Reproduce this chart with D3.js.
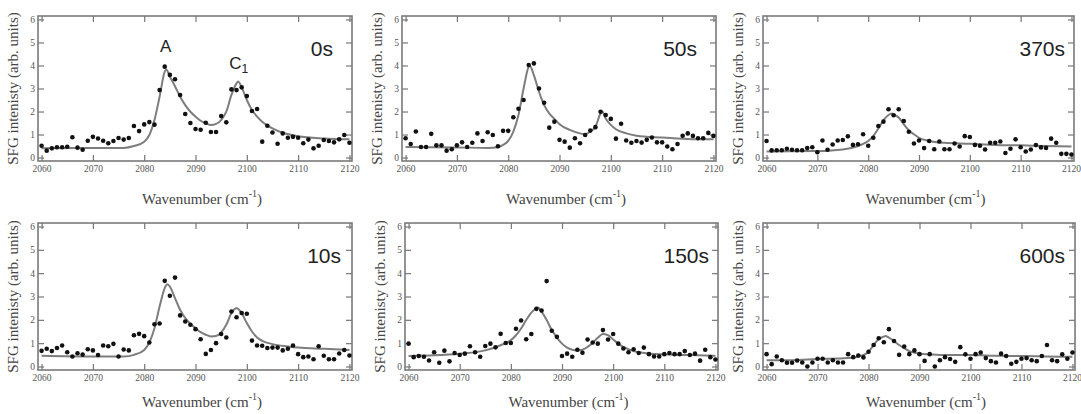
<!DOCTYPE html>
<html>
<head>
<meta charset="utf-8">
<script src="https://cdn.jsdelivr.net/npm/d3@7"></script>
<style>
  body { margin: 0; background: #fff; }
  .tick text { font-family: "Liberation Serif", serif; font-size: 9.5px; fill: #555; }
  .tick line { stroke: #777; stroke-width: 1.2; }
</style>
</head>
<body>
<div id="chartContainer"></div>
<script>
// wavenumber of every measured point (cm-1)
var wavenumbers = [2060,2061,2062,2063,2064,2065,2066,2067,2068,2069,
  2070,2071,2072,2073,2074,2075,2076,2077,2078,2079,
  2080,2081,2082,2083,2084,2085,2086,2087,2088,2089,
  2090,2091,2092,2093,2094,2095,2096,2097,2098,2099,
  2100,2101,2102,2103,2104,2105,2106,2107,2108,2109,
  2110,2111,2112,2113,2114,2115,2116,2117,2118,2119,2120];

var xTicks = [2060, 2070, 2080, 2090, 2100, 2110, 2120];
var yTicks = [0, 1, 2, 3, 4, 5, 6];

// measured SFG intensity, one value per wavenumber
var sfg0s = [0.51,0.30,0.40,0.45,0.45,0.47,0.88,0.43,0.34,0.73,
  0.90,0.83,0.73,0.62,0.72,0.85,0.78,0.85,1.37,1.15,
  1.44,1.54,1.43,2.93,3.95,3.59,3.40,2.72,1.89,1.50,
  1.24,1.21,1.51,1.11,1.11,1.80,1.53,2.96,2.93,3.05,
  2.67,2.02,2.11,0.69,1.38,1.09,0.60,1.05,0.86,0.90,
  0.86,0.62,0.78,0.40,0.51,0.76,0.72,0.66,0.79,0.98,0.64];
var sfg50s = [0.84,0.59,1.13,0.46,0.46,1.03,0.53,0.53,0.30,0.36,
  0.53,0.66,0.46,0.64,1.05,0.72,1.10,0.98,0.49,1.16,
  1.16,1.75,2.12,2.50,4.02,4.09,3.00,2.38,1.30,1.56,
  0.77,0.69,0.43,0.84,0.62,0.98,1.17,1.32,1.99,1.85,
  1.68,0.82,1.47,0.74,0.64,0.72,0.65,0.77,0.87,0.66,
  0.66,0.48,0.36,0.59,0.95,1.05,0.94,0.84,0.84,1.07,0.94];
var sfg370s = [0.72,0.31,0.32,0.32,0.38,0.34,0.32,0.32,0.41,0.45,
  0.23,0.74,0.34,0.57,0.74,0.76,0.92,0.55,0.58,1.01,
  0.51,0.86,1.37,1.56,2.10,1.84,2.10,1.59,1.12,0.61,
  0.74,0.41,0.72,0.36,0.70,0.36,0.36,0.61,0.48,0.93,
  0.89,0.55,0.51,0.35,0.64,0.64,0.70,0.20,0.38,0.79,
  0.45,0.26,0.35,0.54,0.44,0.42,0.82,0.64,0.16,0.16,0.13];
var sfg10s = [0.67,0.76,0.66,0.79,0.90,0.61,0.43,0.57,0.51,0.74,
  0.69,0.49,0.90,0.87,0.97,0.43,0.73,0.69,1.34,1.40,
  1.30,1.03,1.81,1.84,3.67,3.03,3.81,2.19,1.93,1.79,
  1.60,1.17,0.54,0.71,1.00,1.39,1.24,2.36,2.11,2.29,
  2.26,1.11,0.90,0.89,0.79,0.81,0.81,0.69,0.76,0.90,
  0.53,0.40,0.43,0.31,0.87,0.46,0.31,0.31,0.56,0.71,0.47];
var sfg150s = [0.98,0.40,0.45,0.42,0.26,0.61,0.16,0.68,0.22,0.58,
  0.49,0.55,0.87,0.61,0.42,0.88,0.98,0.82,1.40,1.01,
  1.01,1.62,1.97,1.17,1.39,2.47,2.40,3.66,1.53,1.27,
  0.45,0.55,0.42,0.72,0.59,1.16,1.03,0.98,1.56,1.16,
  1.39,0.98,0.77,0.61,0.74,0.58,0.81,0.53,0.43,0.43,
  0.53,0.58,0.53,0.53,0.66,0.49,0.55,0.25,0.72,0.40,0.30];
var sfg600s = [0.53,0.10,0.43,0.27,0.16,0.16,0.26,0.17,0.00,0.17,
  0.33,0.33,0.17,0.27,0.17,0.17,0.53,0.40,0.47,0.39,
  0.63,0.92,1.21,1.04,1.60,1.09,0.50,0.86,0.53,0.69,
  0.53,0.24,0.53,0.00,0.27,0.40,0.32,0.20,0.83,0.52,
  0.33,0.53,0.60,0.36,0.23,0.17,0.55,0.45,0.12,0.20,
  0.33,0.36,0.27,0.23,0.45,0.92,0.27,0.23,0.52,0.33,0.60];

// fitted curves as [wavenumber, intensity]
var fit0s = [[2060,0.40],[2070,0.42],[2076,0.42],[2078,0.50],[2080,0.69],[2081,0.98],[2082,1.63],
  [2083,2.64],[2084,3.73],[2084.3,3.83],[2085,3.51],[2086,3.10],[2087,2.64],[2088,2.28],[2089,1.99],
  [2090,1.78],[2091,1.60],[2092,1.49],[2093,1.41],[2094,1.46],[2095,1.63],[2096,1.99],[2097,2.72],
  [2098,3.22],[2098.3,3.30],[2099,3.05],[2100,2.50],[2101,2.07],[2102,1.78],[2103,1.56],[2105,1.27],
  [2107,1.08],[2110,0.93],[2115,0.83],[2120,0.79]];
var fit50s = [[2060,0.46],[2070,0.44],[2076,0.42],[2078,0.45],[2079,0.55],[2080,0.72],[2081,1.13],
  [2082,1.85],[2083,3.00],[2084,3.95],[2084.2,3.99],[2085,3.58],[2086,2.86],[2087,2.28],[2088,1.92],
  [2089,1.68],[2090,1.45],[2092,1.20],[2094,1.05],[2095,1.01],[2096,1.13],[2097,1.34],[2098,1.92],
  [2098.3,2.00],[2099,1.70],[2100,1.42],[2101,1.23],[2103,1.05],[2105,0.95],[2110,0.87],[2115,0.81],
  [2120,0.79]];
var fit370s = [[2060,0.26],[2070,0.28],[2075,0.35],[2078,0.50],[2080,0.72],[2081,0.93],[2082,1.26],
  [2083,1.62],[2084,1.85],[2084.7,1.91],[2085,1.88],[2086,1.74],[2087,1.45],[2088,1.18],[2089,1.01],
  [2090,0.86],[2092,0.72],[2095,0.64],[2100,0.60],[2105,0.55],[2110,0.53],[2115,0.50],[2120,0.48]];
var fit10s = [[2060,0.46],[2070,0.43],[2076,0.43],[2078,0.50],[2080,0.71],[2081,1.03],[2082,1.64],
  [2083,2.57],[2084,3.36],[2084.5,3.53],[2085,3.43],[2086,2.93],[2087,2.43],[2088,2.07],[2089,1.83],
  [2090,1.64],[2091,1.47],[2092,1.36],[2093,1.29],[2094,1.31],[2095,1.46],[2096,1.79],[2097,2.29],
  [2098,2.50],[2099,2.29],[2100,1.86],[2101,1.50],[2102,1.24],[2103,1.10],[2105,0.96],[2108,0.86],
  [2110,0.81],[2115,0.76],[2120,0.71]];
var fit150s = [[2060,0.45],[2065,0.48],[2070,0.55],[2075,0.69],[2078,0.91],[2080,1.13],[2081,1.34],
  [2082,1.63],[2083,1.99],[2084,2.31],[2085,2.50],[2085.3,2.53],[2086,2.35],[2087,1.99],[2088,1.56],
  [2089,1.24],[2090,0.98],[2091,0.81],[2092,0.72],[2093,0.69],[2094,0.72],[2095,0.84],[2096,1.01],
  [2097,1.23],[2098,1.39],[2099,1.34],[2100,1.16],[2101,0.98],[2102,0.84],[2104,0.66],[2106,0.58],
  [2110,0.52],[2115,0.49],[2120,0.46]];
var fit600s = [[2060,0.27],[2065,0.27],[2070,0.32],[2075,0.35],[2078,0.42],[2080,0.63],[2081,0.92],
  [2082,1.18],[2083,1.28],[2083.3,1.31],[2084,1.24],[2085,1.09],[2086,0.92],[2087,0.78],[2088,0.66],
  [2090,0.55],[2092,0.52],[2095,0.49],[2100,0.49],[2105,0.46],[2110,0.45],[2115,0.43],[2120,0.42]];

var panelLabels = ["0s", "50s", "370s", "10s", "150s", "600s"];

// layout
var rows = [{top: 16, height: 145, titleDy: 43}, {top: 223, height: 147, titleDy: 37}];
var panels = [
  {label: panelLabels[0], values: sfg0s,   fit: fit0s,   left: 38,  width: 314, row: 0, labelDx: 19, peaks: true},
  {label: panelLabels[1], values: sfg50s,  fit: fit50s,  left: 402, width: 314, row: 0, labelDx: 19},
  {label: panelLabels[2], values: sfg370s, fit: fit370s, left: 763, width: 311, row: 0, labelDx: 9, edge: true},
  {label: panelLabels[3], values: sfg10s,  fit: fit10s,  left: 38,  width: 314, row: 1, labelDx: 11},
  {label: panelLabels[4], values: sfg150s, fit: fit150s, left: 405, width: 313, row: 1, labelDx: 9},
  {label: panelLabels[5], values: sfg600s, fit: fit600s, left: 763, width: 312, row: 1, labelDx: 10, edge: true}
];

var svg = d3.select("#chartContainer").append("svg")
  .attr("width", 1081).attr("height", 414);

panels.forEach(function (p) {
  var r = rows[p.row];
  var h = r.height, width = p.width;
  var g = svg.append("g").attr("transform", "translate(" + p.left + "," + r.top + ")");

  var x = d3.scaleLinear().domain([2059.3, 2120.5]).range([0, width]);
  var y = d3.scaleLinear().domain([-0.15, 6.15]).range([h, 0]);

  // axes, ticks pointing inwards on all four sides
  var bottom = g.append("g").attr("transform", "translate(0," + h + ")")
    .call(d3.axisBottom(x).tickValues(xTicks).tickSize(-6).tickPadding(4).tickFormat(d3.format("d")));
  if (p.edge) {
    // last label sits against the page edge
    bottom.selectAll(".tick text").filter(function (d) { return d === 2120; })
      .attr("text-anchor", "end").attr("dx", 9);
  }
  g.append("g")
    .call(d3.axisTop(x).tickValues(xTicks).tickSize(-6).tickFormat(""));
  g.append("g")
    .call(d3.axisLeft(y).tickValues(yTicks).tickSize(-6).tickPadding(3).tickFormat(d3.format("d")));
  g.append("g").attr("transform", "translate(" + width + ",0)")
    .call(d3.axisRight(y).tickValues(yTicks).tickSize(-6).tickFormat(""));
  g.selectAll(".domain").remove();

  g.append("rect")
    .attr("width", width).attr("height", h)
    .attr("fill", "none").attr("stroke", "#7a7a7a").attr("stroke-width", 1.6);

  // fitted curve
  var line = d3.line()
    .x(function (d) { return x(d[0]); })
    .y(function (d) { return y(d[1]); })
    .curve(d3.curveMonotoneX);
  g.append("path").datum(p.fit)
    .attr("d", line)
    .attr("fill", "none").attr("stroke", "#7d7d7d").attr("stroke-width", 2);

  // measured points
  g.selectAll("circle").data(p.values).enter().append("circle")
    .attr("cx", function (d, i) { return x(wavenumbers[i]); })
    .attr("cy", function (d) { return y(d); })
    .attr("r", 2.3)
    .attr("fill", "#111");

  // time label
  g.append("text")
    .attr("x", width - p.labelDx).attr("y", 40)
    .attr("text-anchor", "end")
    .style("font-family", "'Liberation Sans', Arial, sans-serif")
    .style("font-size", "21px").style("fill", "#222")
    .text(p.label);

  if (p.peaks) {
    g.append("text")
      .attr("x", x(2084.2)).attr("y", 36)
      .attr("text-anchor", "middle")
      .style("font-family", "'Liberation Sans', Arial, sans-serif")
      .style("font-size", "17px").style("fill", "#222")
      .text("A");
    var c = g.append("text")
      .attr("x", x(2098.4)).attr("y", 53)
      .attr("text-anchor", "middle")
      .style("font-family", "'Liberation Sans', Arial, sans-serif")
      .style("font-size", "17px").style("fill", "#222");
    c.append("tspan").text("C");
    c.append("tspan").attr("dy", 4).style("font-size", "12px").text("1");
  }

  // axis titles
  g.append("text")
    .attr("transform", "translate(-20," + (h / 2) + ") rotate(-90)")
    .attr("text-anchor", "middle")
    .style("font-family", "'Liberation Serif', 'Times New Roman', serif")
    .style("font-size", "15px").style("fill", "#444")
    .text("SFG intenisty (arb. units)");

  var t = g.append("text")
    .attr("x", width / 2 + 7).attr("y", h + r.titleDy)
    .attr("text-anchor", "middle")
    .style("font-family", "'Liberation Serif', 'Times New Roman', serif")
    .style("font-size", "15px").style("fill", "#444");
  t.append("tspan").text("Wavenumber (cm");
  t.append("tspan").attr("dy", -7).style("font-size", "10px").text("-1");
  t.append("tspan").attr("dy", 7).text(")");
});
</script>
</body>
</html>
